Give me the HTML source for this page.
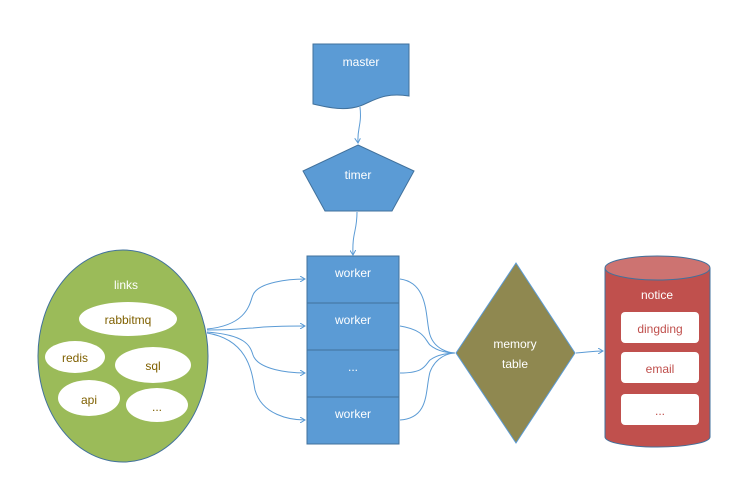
<!DOCTYPE html>
<html><head><meta charset="utf-8"><style>
html,body{margin:0;padding:0;background:#fff}
svg{display:block}
text{font-family:"Liberation Sans",sans-serif;font-size:12px}
</style></head><body>
<svg width="749" height="504" viewBox="0 0 749 504" xmlns="http://www.w3.org/2000/svg">
<defs>
<marker id="a" markerWidth="6" markerHeight="6" refX="5" refY="3" orient="auto" markerUnits="userSpaceOnUse"><path d="M0,0 L5,3 L0,6" fill="none" stroke="#5b9bd5" stroke-width="1"/></marker>
</defs>
<!-- master -->
<path d="M313,44 H409 V96 C385,92 375,100 360,106 C345,111 330,108 313,104 Z" fill="#5b9bd5" stroke="#41719c"/>
<text x="361" y="66" fill="#fff" text-anchor="middle">master</text>
<path d="M360,107 C362,125 357,128 358,143" fill="none" stroke="#5b9bd5" marker-end="url(#a)"/>
<!-- timer -->
<polygon points="358,145 414,171 392,211 325,211 303,171" fill="#5b9bd5" stroke="#41719c"/>
<text x="358" y="179" fill="#fff" text-anchor="middle">timer</text>
<path d="M357,212 C357,232 352,232 353,255" fill="none" stroke="#5b9bd5" marker-end="url(#a)"/>
<!-- workers -->
<g fill="#5b9bd5" stroke="#41719c">
<rect x="307" y="256" width="92" height="47"/>
<rect x="307" y="303" width="92" height="47"/>
<rect x="307" y="350" width="92" height="47"/>
<rect x="307" y="397" width="92" height="47"/>
</g>
<g fill="#fff" text-anchor="middle">
<text x="353" y="277">worker</text>
<text x="353" y="324">worker</text>
<text x="353" y="371">...</text>
<text x="353" y="418">worker</text>
</g>
<!-- links -->
<ellipse cx="123" cy="356" rx="85" ry="106" fill="#9bbb59" stroke="#41719c"/>
<text x="126" y="289" fill="#fff" text-anchor="middle">links</text>
<g fill="#fff">
<ellipse cx="128" cy="319" rx="49" ry="17"/>
<ellipse cx="75" cy="357" rx="30" ry="16"/>
<ellipse cx="153" cy="365" rx="38" ry="18"/>
<ellipse cx="89" cy="398" rx="31" ry="18"/>
<ellipse cx="157" cy="405" rx="31" ry="17"/>
</g>
<g fill="#7f6000" text-anchor="middle">
<text x="128" y="324">rabbitmq</text>
<text x="75" y="362">redis</text>
<text x="153" y="370">sql</text>
<text x="89" y="404">api</text>
<text x="157" y="411">...</text>
</g>
<!-- connectors links->workers -->
<g fill="none" stroke="#5b9bd5">
<path d="M207,329 C250,325 250,300 253,295 C258,282 290,279 305,279" marker-end="url(#a)"/>
<path d="M207,330 C240,330 245,328 253,328 C270,326 290,326 305,326" marker-end="url(#a)"/>
<path d="M207,332 C245,335 250,345 253,355 C258,370 290,373 305,373" marker-end="url(#a)"/>
<path d="M207,333 C250,340 252,375 255,390 C262,415 290,420 305,420" marker-end="url(#a)"/>
<!-- workers -> memory -->
<path d="M400,279 C430,283 425,320 430,335 C435,350 450,353 455,353"/>
<path d="M400,326 C425,330 425,340 430,345 C438,352 450,353 455,353"/>
<path d="M400,373 C425,373 425,365 430,360 C438,354 450,353 455,353"/>
<path d="M400,420 C430,418 425,390 430,372 C436,356 450,353 455,353"/>
<path d="M576,353 C590,352 592,351 603,351" marker-end="url(#a)"/>
</g>
<!-- memory table -->
<polygon points="516,263 575,353 516,443 456,353" fill="#8f8850" stroke="#5b9bd5"/>
<text x="515" y="348" fill="#fff" text-anchor="middle">memory</text>
<text x="515" y="368" fill="#fff" text-anchor="middle">table</text>
<!-- notice cylinder -->
<path d="M605,268 V437 A52.5,10 0 0 0 710,437 V268" fill="#c0504d" stroke="#41719c"/>
<ellipse cx="657.5" cy="268" rx="52.5" ry="12" fill="#cd7371" stroke="#41719c"/>
<text x="657" y="299" fill="#fff" text-anchor="middle">notice</text>
<g fill="#fff">
<rect x="621" y="312" width="78" height="31" rx="4"/>
<rect x="621" y="352" width="78" height="31" rx="4"/>
<rect x="621" y="394" width="78" height="31" rx="4"/>
</g>
<g fill="#c0504d" text-anchor="middle">
<text x="660" y="333">dingding</text>
<text x="660" y="373">email</text>
<text x="660" y="415">...</text>
</g>
</svg>
</body></html>
